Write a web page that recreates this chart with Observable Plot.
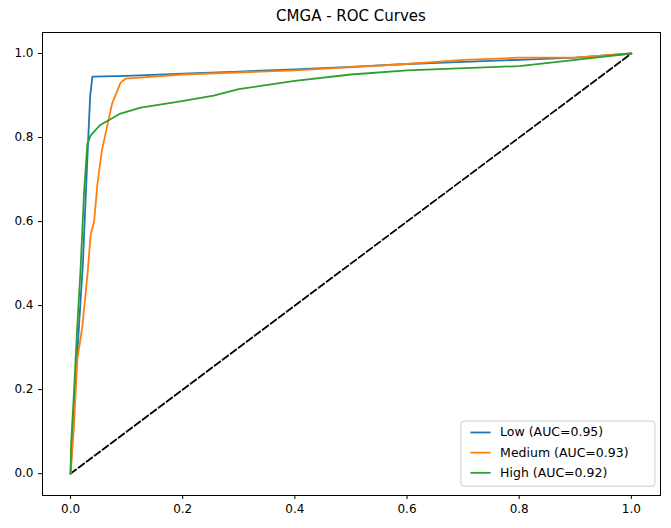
<!DOCTYPE html>
<html><head><meta charset="utf-8">
<script src="https://cdn.jsdelivr.net/npm/d3@7"></script>
<script src="https://cdn.jsdelivr.net/npm/@observablehq/plot@0.6"></script>
<style>body{margin:0;background:#fff;font-family:"DejaVu Sans",sans-serif}</style>
</head><body><div id="chart"></div>
<script>
const lowFpr = [0, 0.003, 0.008, 0.015, 0.022, 0.03, 0.035, 0.039, 0.1, 0.2, 0.3, 0.4, 0.5, 0.6, 0.7, 0.8, 0.9, 1];
const lowTpr = [0, 0.07, 0.2, 0.35, 0.5, 0.75, 0.9, 0.945, 0.947, 0.952, 0.957, 0.962, 0.968, 0.975, 0.98, 0.985, 0.99, 1];
const medFpr = [0, 0.006, 0.012, 0.021, 0.030, 0.036, 0.042, 0.048, 0.056, 0.074, 0.089, 0.098, 0.2, 0.4, 0.6, 0.7, 0.8, 0.9, 1];
const medTpr = [0, 0.11, 0.27, 0.35, 0.47, 0.57, 0.60, 0.69, 0.77, 0.88, 0.93, 0.94, 0.95, 0.96, 0.975, 0.985, 0.99, 0.99, 1];
const highFpr = [0, 0.001, 0.006, 0.012, 0.018, 0.024, 0.03, 0.036, 0.053, 0.089, 0.125, 0.196, 0.255, 0.3, 0.4, 0.5, 0.6, 0.8, 0.9, 1];
const highTpr = [0, 0.07, 0.19, 0.35, 0.49, 0.667, 0.785, 0.805, 0.83, 0.857, 0.871, 0.886, 0.90, 0.915, 0.935, 0.95, 0.96, 0.97, 0.985, 1];
const labels = ["Low (AUC=0.95)", "Medium (AUC=0.93)", "High (AUC=0.92)"];
const colors = ["#1f77b4", "#ff7f0e", "#2ca02c"];
const ticks = [0, 0.2, 0.4, 0.6, 0.8, 1.0];

const toPts = (xs, ys, s) => xs.map((x, i) => ({x, y: ys[i], s}));
const pts = [
  ...toPts(lowFpr, lowTpr, labels[0]),
  ...toPts(medFpr, medTpr, labels[1]),
  ...toPts(highFpr, highTpr, labels[2])
];
const legend = labels.map((l, i) => ({l, c: colors[i], y: 0.098 - i * 0.048}));

const chart = Plot.plot({
  width: 671, height: 528,
  marginLeft: 42, marginRight: 11, marginTop: 32, marginBottom: 33,
  style: {fontFamily: "DejaVu Sans, sans-serif", fontSize: "12px", color: "#000"},
  x: {domain: [-0.05, 1.052], ticks, tickFormat: d3.format(".1f"), label: null, tickSize: 4},
  y: {domain: [-0.052, 1.05], ticks, tickFormat: d3.format(".1f"), label: null, tickSize: 4},
  marks: [
    Plot.line([{x: 0, y: 0}, {x: 1, y: 1}], {x: "x", y: "y", stroke: "#000", strokeWidth: 1.8, strokeDasharray: "7,3"}),
    Plot.line(pts, {x: "x", y: "y", z: "s", stroke: "s", strokeWidth: 1.8}),
    Plot.rect([{}], {x1: 0.697, x2: 1.043, y1: -0.031, y2: 0.124, fill: "white", fillOpacity: 0.8, stroke: "#ccc", rx: 3}),
    Plot.link(legend, {x1: 0.713, x2: 0.749, y1: "y", y2: "y", stroke: "c", strokeWidth: 1.8}),
    Plot.text(legend, {x: 0.766, y: "y", text: "l", textAnchor: "start", fontSize: 12.5}),
    Plot.frame({stroke: "#000"})
  ],
  color: {domain: labels, range: colors}
});

const wrap = document.createElement("div");
wrap.style.position = "relative";
const title = document.createElement("div");
title.textContent = "CMGA - ROC Curves";
title.style.cssText = "position:absolute;top:7px;left:42px;width:618px;text-align:center;font-size:15px";
wrap.append(chart, title);
document.getElementById("chart").append(wrap);
</script></body></html>
